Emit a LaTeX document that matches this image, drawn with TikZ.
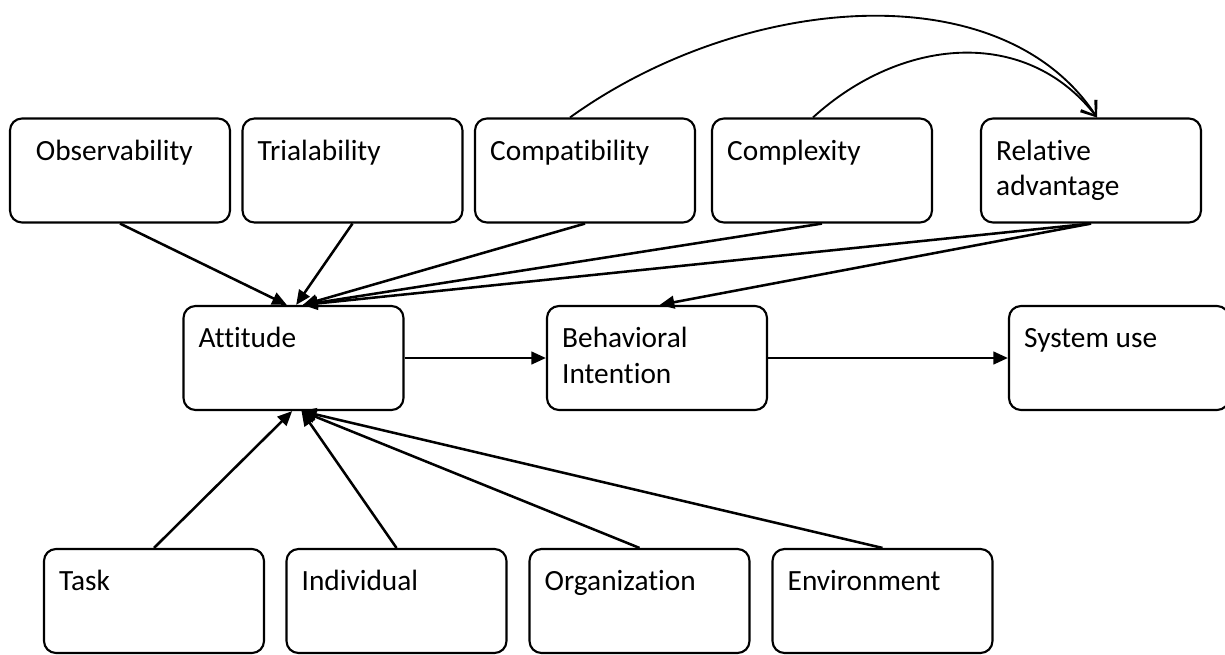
\documentclass[tikz,border=0pt]{standalone}
\usepackage{fontspec}
\setmainfont{Carlito}[Ligatures=NoCommon]
\usetikzlibrary{arrows.meta}

\begin{document}
\begin{tikzpicture}[
    x=0.75pt, y=-0.75pt,
    box/.style={draw, line width=1.6pt, rounded corners=9pt, minimum width=165pt, minimum height=78pt, inner sep=0pt},
    txt/.style={anchor=base west, inner sep=0pt, align=left, xshift=12pt, yshift=-32.25pt, font=\fontsize{22}{26.5}\selectfont},
    arr/.style={-{Triangle[length=11pt,width=9.5pt]}, line width=1.9pt},
    curvearr/.style={-{Straight Barb[length=10pt,width=14pt]}, line width=1.4pt}
]
\useasboundingbox (0,0) rectangle (1225,654);

% innovation attributes
\node[box, label={[txt, xshift=8pt]north west:Observability}] (obs) at (120,170.5) {};
\node[box, label={[txt]north west:Trialability}] (trial) at (352.5,170.5) {};
\node[box, label={[txt]north west:Compatibility}] (compat) at (585,170.5) {};
\node[box, label={[txt]north west:Complexity}] (complex) at (822,170.5) {};
\node[box, label={[txt, yshift=-26.5pt]north west:Relative\\advantage}] (reladv) at (1091,170.5) {};

% main chain
\node[box, label={[txt]north west:Attitude}] (att) at (293.5,358) {};
\node[box, label={[txt, yshift=-26.5pt]north west:Behavioral\\Intention}] (intent) at (657,358) {};
\node[box, label={[txt]north west:System use}] (sysuse) at (1119,358) {};

% context factors
\node[box, label={[txt]north west:Task}] (task) at (154,601) {};
\node[box, label={[txt]north west:Individual}] (indiv) at (396.5,601) {};
\node[box, label={[txt]north west:Organization}] (org) at (639.5,601) {};
\node[box, label={[txt]north west:Environment}] (env) at (882.5,601) {};

\draw[arr] (obs.south) -- ([xshift=-5pt]att.north);
\draw[arr] (trial.south) -- ([xshift=2pt]att.north);
\draw[arr] (compat.south) -- ([xshift=7pt]att.north);
\draw[arr] (complex.south) -- ([xshift=7pt]att.north);
\draw[arr] (reladv.south) -- ([xshift=7pt]att.north);
\draw[arr] (reladv.south) -- ([xshift=2pt]intent.north);

\draw[arr] (att) -- (intent);
\draw[arr] (intent) -- (sysuse);

\draw[arr] (task.north) -- ([xshift=-1pt]att.south);
\draw[arr] (indiv.north) -- ([xshift=6pt]att.south);
\draw[arr] (org.north) -- ([xshift=6pt]att.south);
\draw[arr] (env.north) -- ([xshift=6pt]att.south);

\draw[curvearr] ([xshift=-11.25pt]compat.north) .. controls (740,-5) and (1000,-30) .. ([xshift=4.5pt]reladv.north);
\draw[curvearr] ([xshift=-6.75pt]complex.north) .. controls (900,38) and (1025,25) .. ([xshift=4.5pt]reladv.north);
\end{tikzpicture}
\end{document}
